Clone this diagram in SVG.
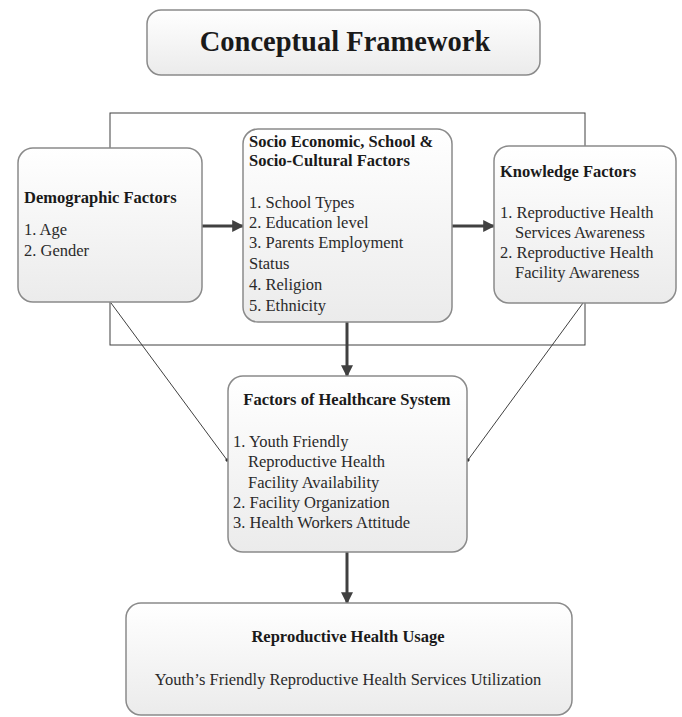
<svg xmlns="http://www.w3.org/2000/svg" width="682" height="717" viewBox="0 0 682 717">
<defs>
<linearGradient id="g" x1="0" y1="0" x2="0" y2="1">
<stop offset="0" stop-color="#ffffff"/>
<stop offset="1" stop-color="#ebebeb"/>
</linearGradient>
<marker id="ah" viewBox="0 0 10 10" refX="9" refY="5" markerWidth="4" markerHeight="4" orient="auto" markerUnits="strokeWidth">
<path d="M0,0 L10,5 L0,10 z" fill="#404040"/>
</marker>
<marker id="dot" viewBox="0 0 10 10" refX="5" refY="5" markerWidth="4" markerHeight="4" orient="auto" markerUnits="strokeWidth">
<circle cx="5" cy="5" r="4" fill="#333"/>
</marker>
<style>
.box{fill:url(#g);stroke:#8a8a8a;stroke-width:1.5}
.t{font-family:"Liberation Serif","Times New Roman",serif;font-size:16.5px;fill:#2a2a2a}
.b{font-weight:bold;fill:#1a1a1a}
.thick{stroke:#404040;stroke-width:3;fill:none}
.thin{stroke:#404040;stroke-width:1;fill:none}
</style>
</defs>
<rect width="682" height="717" fill="#fff"/>
<g id="connectors">
<rect x="110" y="113" width="475" height="232" class="thin"/>
<line x1="202" y1="226" x2="243" y2="226" class="thick" marker-end="url(#ah)"/>
<line x1="452" y1="226" x2="494" y2="226" class="thick" marker-end="url(#ah)"/>
<line x1="347" y1="322" x2="347" y2="376" class="thick" marker-end="url(#ah)"/>
<line x1="347" y1="552" x2="347" y2="603" class="thick" marker-end="url(#ah)"/>
<line x1="111" y1="303" x2="227" y2="460" class="thin" marker-end="url(#dot)"/>
<line x1="583" y1="303" x2="468" y2="460" class="thin" marker-end="url(#dot)"/>
</g>
<g id="title">
<rect x="147" y="10" width="393" height="65" rx="14" class="box"/>
<text x="345" y="51" text-anchor="middle" class="t b" style="font-size:28.5px">Conceptual Framework</text>
</g>
<g id="demographic">
<rect x="18" y="148" width="184" height="154" rx="15" class="box"/>
<text x="24" y="203" class="t b">Demographic Factors</text>
<text x="24" y="235" class="t">1. Age</text>
<text x="24" y="256" class="t">2. Gender</text>
</g>
<g id="socio">
<rect x="243" y="129" width="209" height="193" rx="15" class="box"/>
<text x="249" y="147" class="t b">Socio Economic, School &amp;</text>
<text x="249" y="166" class="t b">Socio-Cultural Factors</text>
<text x="249" y="208" class="t">1. School Types</text>
<text x="249" y="228" class="t">2. Education level</text>
<text x="249" y="248" class="t">3. Parents Employment</text>
<text x="249" y="269" class="t">Status</text>
<text x="249" y="290" class="t">4. Religion</text>
<text x="249" y="311" class="t">5. Ethnicity</text>
</g>
<g id="knowledge">
<rect x="494" y="146" width="182" height="157" rx="15" class="box"/>
<text x="500" y="177" class="t b">Knowledge Factors</text>
<text x="500" y="218" class="t">1. Reproductive Health</text>
<text x="515" y="238" class="t">Services Awareness</text>
<text x="500" y="258" class="t">2. Reproductive Health</text>
<text x="515" y="278" class="t">Facility Awareness</text>
</g>
<g id="healthcare">
<rect x="228" y="376" width="239" height="176" rx="15" class="box"/>
<text x="347" y="405" text-anchor="middle" class="t b">Factors of Healthcare System</text>
<text x="233" y="447" class="t">1. Youth Friendly</text>
<text x="248" y="467" class="t">Reproductive Health</text>
<text x="248" y="488" class="t">Facility Availability</text>
<text x="233" y="508" class="t">2. Facility Organization</text>
<text x="233" y="528" class="t">3. Health Workers Attitude</text>
</g>
<g id="usage">
<rect x="126" y="603" width="446" height="112" rx="15" class="box"/>
<text x="348" y="642" text-anchor="middle" class="t b">Reproductive Health Usage</text>
<text x="348" y="685" text-anchor="middle" class="t">Youth’s Friendly Reproductive Health Services Utilization</text>
</g>
</svg>
